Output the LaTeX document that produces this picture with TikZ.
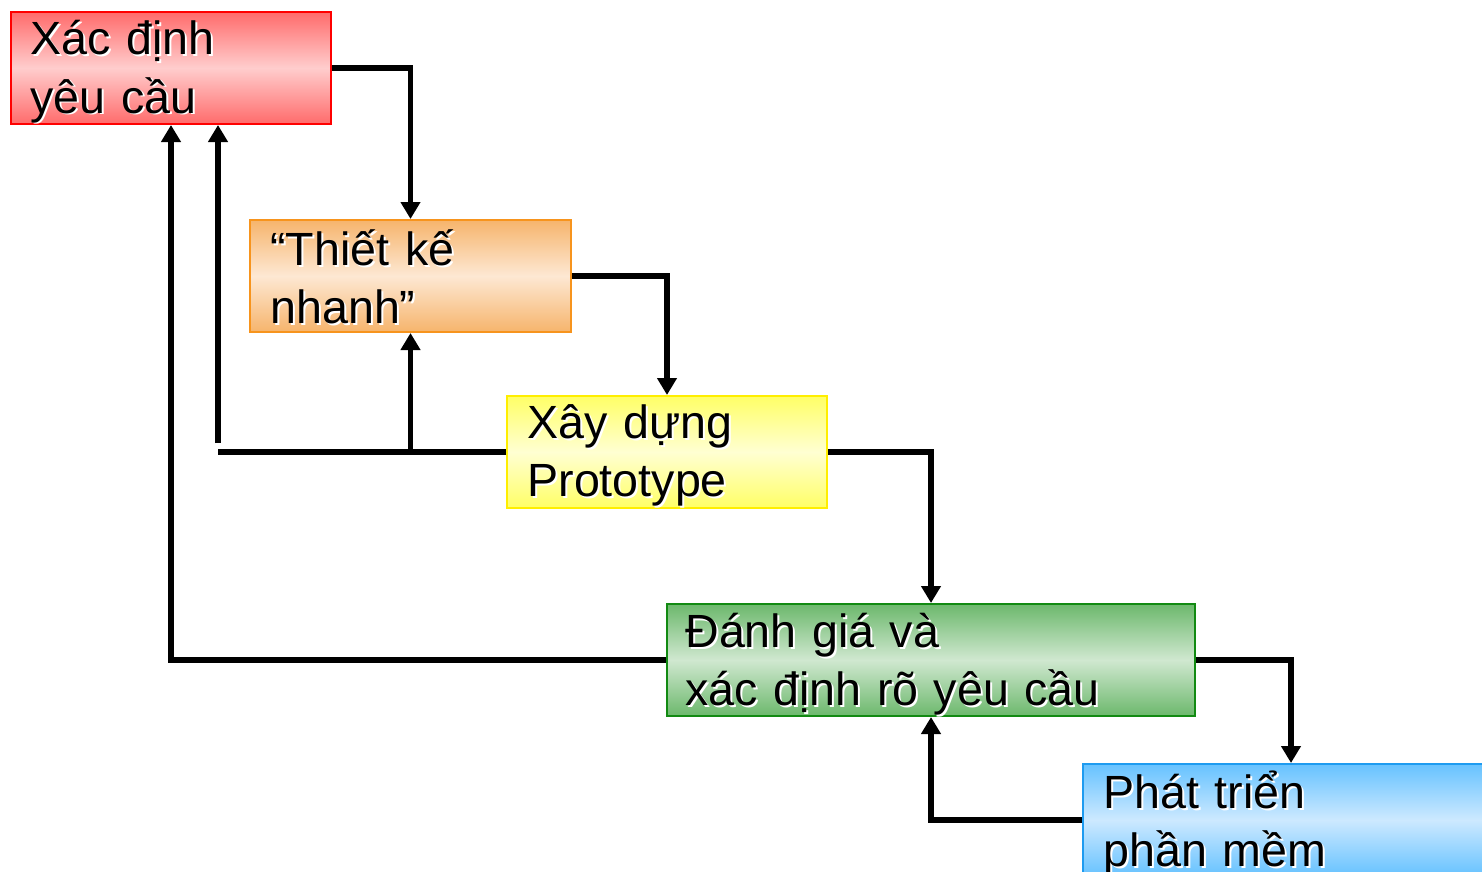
\documentclass[tikz,border=0pt]{standalone}
\usepackage{fontspec}
\setmainfont{Liberation Sans}
\usetikzlibrary{arrows.meta}

\definecolor{redtop}{HTML}{FF6B6B}
\definecolor{redmid}{HTML}{FFCDCD}
\definecolor{redline}{HTML}{FF0000}
\definecolor{orgtop}{HTML}{F6B46C}
\definecolor{orgmid}{HTML}{FDE8D3}
\definecolor{orgline}{HTML}{F7941D}
\definecolor{yeltop}{HTML}{FFFF66}
\definecolor{yelmid}{HTML}{FFFFD2}
\definecolor{yelline}{HTML}{FFEE00}
\definecolor{grntop}{HTML}{6CB86C}
\definecolor{grnmid}{HTML}{D0E8D0}
\definecolor{grnline}{HTML}{128A12}
\definecolor{blutop}{HTML}{66C2FF}
\definecolor{blumid}{HTML}{CDE9FF}
\definecolor{bluline}{HTML}{1E9BF0}

% black text with a soft white offset behind it
\newcommand\glow[1]{\leavevmode\rlap{\kern1pt\raisebox{-1pt}{\textcolor{white}{#1}}}#1}

\begin{document}
\begin{tikzpicture}[x=0.5pt,y=-0.5pt,
  box/.style={draw, line width=1pt, minimum height=56pt, anchor=north west,
    inner sep=0pt},
  redbox/.style={box, draw=redline, top color=redtop, bottom color=redtop, middle color=redmid},
  orgbox/.style={box, draw=orgline, top color=orgtop, bottom color=orgtop, middle color=orgmid},
  yelbox/.style={box, draw=yelline, top color=yeltop, bottom color=yeltop, middle color=yelmid},
  grnbox/.style={box, draw=grnline, top color=grntop, bottom color=grntop, middle color=grnmid},
  blubox/.style={box, draw=bluline, top color=blutop, bottom color=blutop, middle color=blumid},
  lbl/.style={anchor=base west, inner sep=0pt, text width=260pt, align=left,
    font=\fontsize{23.3pt}{29pt}\selectfont},
  conn/.style={line width=2.8pt, -{Triangle[width=9.5pt,length=8.5pt]}},
  seg/.style={line width=2.8pt}]

\useasboundingbox (0,0) rectangle (1482,872);
\clip (0,0) rectangle (1482,872);

% process boxes
\node[redbox, minimum width=160pt] (req) at (10,11) {};
\node[orgbox, minimum width=160.5pt] (quick) at (249,219) {};
\node[yelbox, minimum width=160pt] (proto) at (506,395) {};
\node[grnbox, minimum width=264pt] (eval) at (666,603) {};
\node[blubox, minimum width=208pt] (dev) at (1082,763) {};

% box labels
\node[lbl] (reqT) at ([xshift=10pt,yshift=-22pt]req.north west)
  {\glow{Xác định}\\\glow{yêu cầu}};
\node[lbl] (quickT) at ([xshift=10.5pt,yshift=-23pt]quick.north west)
  {\glow{“Thiết kế}\\\glow{nhanh”}};
\node[lbl] (protoT) at ([xshift=10.5pt,yshift=-21.5pt]proto.north west)
  {\glow{Xây dựng}\\\glow{Prototype}};
\node[lbl] (evalT) at ([xshift=9.5pt,yshift=-22pt]eval.north west)
  {\glow{Đánh giá và}\\\glow{xác định rõ yêu cầu}};
\node[lbl] (devT) at ([xshift=10.5pt,yshift=-22.5pt]dev.north west)
  {\glow{Phát triển}\\\glow{phần mềm}};

% forward flow
\draw[conn] (req.east) -| (quick.north);
\draw[conn] (quick.east) -| (proto.north);
\draw[conn] (proto.east) -| (eval.north);
\draw[conn] (eval.east) -| (dev.north);

% feedback loops
\draw[conn] (proto.west) -| (quick.south);
\coordinate (j1) at (410,452);
\coordinate (j2) at (218,452);
\coordinate (j3) at (218,443);
\draw[seg] (j1) -- (j2);
\draw[conn] (j3) -- (j3 |- req.south);
\draw[conn] (eval.west) -| (req.south);
\draw[conn] (dev.west) -| (eval.south);
\end{tikzpicture}
\end{document}
